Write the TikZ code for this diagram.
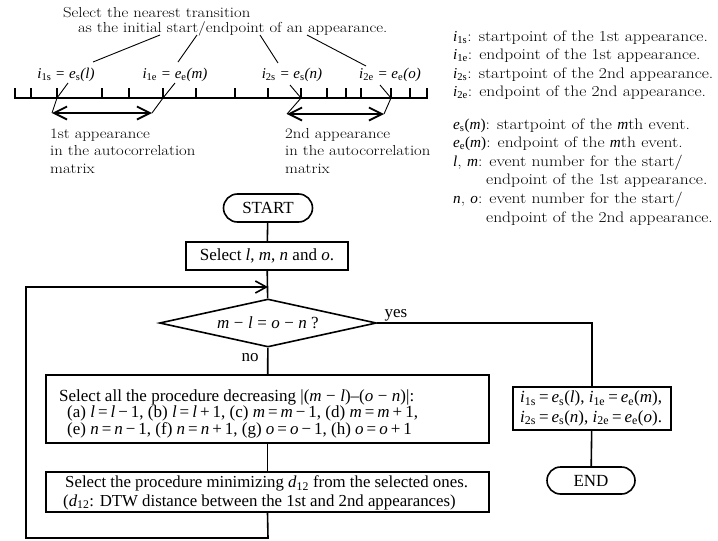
\documentclass[tikz,border=0pt]{standalone}
\usepackage{fontspec}
\setmainfont{Latin Modern Roman}
\newfontfamily\widerm[FakeStretch=1.15]{Latin Modern Roman}
\newfontfamily\tms{Liberation Serif}
\usetikzlibrary{arrows.meta,shapes.misc,shapes.geometric}
\newcommand\sbs[1]{\textsubscript{\tms\upshape #1}}
\newcommand\vi[1]{{\tms\itshape #1}}
% tight spacing around operators in the flowchart formulas
\newcommand\op[1]{\kern3pt#1\kern3pt}
\newcommand\opw[1]{\kern4.5pt#1\kern4.5pt}
\begin{document}
\begin{tikzpicture}[x=1pt,y=-1pt,
  txt/.style={font=\widerm\fontsize{14.5}{17.5}\selectfont, inner sep=0pt},
  leg/.style={font=\widerm\fontsize{15.2}{17.5}\selectfont, inner sep=0pt, anchor=base west},
  lbl/.style={font=\tms\itshape\fontsize{15}{17}\selectfont, inner sep=0pt},
  fc/.style={font=\tms\fontsize{17}{17}\selectfont},
  fctext/.style={fc, inner sep=0pt, anchor=base west, align=left},
  box/.style={draw, line width=1.6pt, inner sep=0pt},
  term/.style={fc, draw, line width=1.6pt, rounded rectangle, inner sep=0pt},
  flow/.style={line width=1.6pt},
  thinl/.style={line width=0.9pt},
  tick/.style={line width=1.5pt},
  dbl/.style={line width=1.8pt, {Straight Barb[length=13pt,width=13pt,line width=1.8pt]}-{Straight Barb[length=13pt,width=13pt,line width=1.8pt]}},
  loop/.style={flow, -{Straight Barb[length=11pt,width=12pt,line width=1.6pt]}}]
\useasboundingbox (0,0) rectangle (718,541);

% ---------- time axis ----------
\draw[line width=2pt] (15,98) -- (427,98);
\foreach \t in {15,31,57,102,129,163,196,235,268,301,327,346,361,391,410,427}
  \draw[tick] (\t,98.5) -- (\t,88);
\coordinate (t1s) at (57,98);
\coordinate (t1e) at (163,98);
\coordinate (t2s) at (301,98);
\coordinate (t2e) at (391,98);

% appearance spans
\coordinate (a1l) at (52,113);
\coordinate (a1r) at (152,113);
\coordinate (a2l) at (287,114);
\coordinate (a2r) at (384,114);
\draw[dbl] (a1l) -- (a1r);
\draw[dbl] (a2l) -- (a2r);
\draw[thinl] (t1s) -- (a1l);
\draw[thinl] (t1e) -- (a1r);
\draw[thinl] (t2s) -- (a2l);
\draw[thinl] (t2e) -- (a2r);

% title
\node[txt, anchor=base west] (title1) at (63,17) {Select the nearest transition};
\node[txt, anchor=base west] (title2) at (78,32) {as the initial start/endpoint of an appearance.};

% point labels
\node[lbl, anchor=base] (l1s) at (66,78) {i\sbs{1s} = e\sbs{s}(l)};
\node[lbl, anchor=base] (l1e) at (175,78) {i\sbs{1e} = e\sbs{e}(m)};
\node[lbl, anchor=base] (l2s) at (292,78) {i\sbs{2s} = e\sbs{s}(n)};
\node[lbl, anchor=base] (l2e) at (390,78) {i\sbs{2e} = e\sbs{e}(o)};

\coordinate (p1a) at (160,35); \coordinate (p1b) at (93,62);
\coordinate (p2a) at (197,35); \coordinate (p2b) at (178,62);
\coordinate (p3a) at (260,35); \coordinate (p3b) at (278,63);
\coordinate (p4a) at (307,35); \coordinate (p4b) at (366,66);
\draw[thinl] (p1a) -- (p1b);
\draw[thinl] (p2a) -- (p2b);
\draw[thinl] (p3a) -- (p3b);
\draw[thinl] (p4a) -- (p4b);

\coordinate (q1) at (68,83); \coordinate (q2) at (175,83);
\coordinate (q3) at (290,85); \coordinate (q4) at (380,85);
\draw[thinl] (q1) -- (t1s);
\draw[thinl] (q2) -- (t1e);
\draw[thinl] (q3) -- (t2s);
\draw[thinl] (q4) -- (t2e);

% span captions (anchored at the baseline of the last line)
\node[txt, anchor=base west, align=left] (cap1) at (50,173)
  {1st appearance\\in the autocorrelation\\matrix};
\node[txt, anchor=base west, align=left] (cap2) at (285,173)
  {2nd appearance\\in the autocorrelation\\matrix};

% ---------- legend ----------
\node[leg] (g1) at (453,41) {\vi{i}\sbs{1s}: startpoint of the 1st appearance.};
\node[leg] (g2) at (453,59) {\vi{i}\sbs{1e}: endpoint of the 1st appearance.};
\node[leg] (g3) at (453,78) {\vi{i}\sbs{2s}: startpoint of the 2nd appearance.};
\node[leg] (g4) at (453,96) {\vi{i}\sbs{2e}: endpoint of the 2nd appearance.};
\node[leg] (g5) at (453,129) {\vi{e}\sbs{s}{\tms(}\vi{m}{\tms)}: startpoint of the \vi{m}th event.};
\node[leg] (g6) at (453,147) {\vi{e}\sbs{e}{\tms(}\vi{m}{\tms)}: endpoint of the \vi{m}th event.};
\node[leg] (g7) at (453,166) {\vi{l}, \vi{m}: event number for the start/};
\node[leg] (g8) at (486,184) {endpoint of the 1st appearance.};
\node[leg] (g9) at (453,203) {\vi{n}, \vi{o}: event number for the start/};
\node[leg] (g10) at (486,222) {endpoint of the 2nd appearance.};

% ---------- flowchart ----------
\node[term, minimum width=89pt, minimum height=28pt] (start) at (268,208) {START};
\node[box, fc, minimum width=162pt, minimum height=28pt] (sel) at (267,256) {Select \textit{l}, \textit{m}, \textit{n} and \textit{o}.};
\coordinate (join) at (268,287);
\node[fc, draw, line width=1.6pt, diamond, aspect=4.5, inner sep=0pt,
      minimum width=217pt, minimum height=48pt] (cond) at (268,323)
      {\textit{m}\opw{−}\textit{l}\opw{=}\textit{o}\opw{−}\textit{n} ?};
\node[fc, anchor=base] (yes) at (396,317) {yes};
\node[fc, anchor=base] (no) at (250,361) {no};

% decreasing step
\node[box, minimum width=443pt, minimum height=68pt] (dec) at (267.5,409) {};
\node[fctext, font=\tms\fontsize{17}{16.5}\selectfont] (dectext) at (59,434)
  {Select all the procedure decreasing |(\textit{m}\opw{−}\textit{l})–(\textit{o}\opw{−}\textit{n})|:\\
   \hspace*{8pt}(a) \textit{l}\op{=}\textit{l}\op{−}1, (b) \textit{l}\op{=}\textit{l}\op{+}1, (c) \textit{m}\op{=}\textit{m}\op{−}1, (d) \textit{m}\op{=}\textit{m}\op{+}1,\\
   \hspace*{8pt}(e) \textit{n}\op{=}\textit{n}\op{−}1, (f) \textit{n}\op{=}\textit{n}\op{+}1, (g) \textit{o}\op{=}\textit{o}\op{−}1, (h) \textit{o}\op{=}\textit{o}\op{+}1};

% minimizing step
\node[box, minimum width=443pt, minimum height=40pt] (minim) at (267.5,492) {};
\node[fctext, font=\tms\fontsize{16.8}{18.5}\selectfont] (mintext) at (63,506)
  {\hspace*{2pt}Select the procedure minimizing \textit{d}\textsubscript{12} from the selected ones.\\
   (\textit{d}\textsubscript{12}: DTW distance between the 1st and 2nd appearances)};

% result
\node[box, minimum width=158pt, minimum height=43pt] (res) at (592,408.5) {};
\node[fctext, font=\tms\fontsize{17}{19.5}\selectfont] (restext) at (520,422)
  {\textit{i}\textsubscript{1s}\op{=}\textit{e}\textsubscript{s}(\textit{l}), \textit{i}\textsubscript{1e}\op{=}\textit{e}\textsubscript{e}(\textit{m}),\\
   \textit{i}\textsubscript{2s}\op{=}\textit{e}\textsubscript{s}(\textit{n}), \textit{i}\textsubscript{2e}\op{=}\textit{e}\textsubscript{e}(\textit{o}).};
\node[term, minimum width=88pt, minimum height=27pt] (end) at (591,480.5) {END};

\coordinate (yesc) at (592,323);
\coordinate (bl) at (268,538);
\coordinate (bll) at (26,538);
\coordinate (tll) at (26,287);

\draw[flow] (start) -- (sel);
\draw[flow] (sel) -- (cond);
\draw[flow] (cond) -- (dec);
\draw[flow] (dec) -- (minim);
\draw[flow] (cond.east) -- (yesc) -- (res.north);
\draw[flow] (res) -- (end);
\draw[loop] (minim.south) -- (bl) -- (bll) -- (tll) -- (join);
\end{tikzpicture}
\end{document}
